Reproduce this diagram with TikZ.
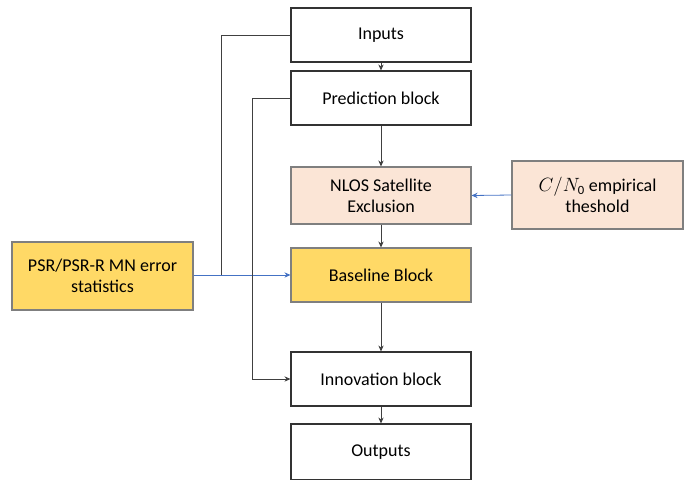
\documentclass[tikz,border=0pt]{standalone}
\usepackage{fontspec}
\setmainfont{Carlito}
\usetikzlibrary{arrows.meta}
\definecolor{peach}{HTML}{FBE5D6}
\definecolor{gold}{HTML}{FFD966}
\definecolor{bordergray}{HTML}{7F7F7F}
\definecolor{linegray}{HTML}{404040}
\definecolor{lineblue}{HTML}{4472C4}
\tikzset{
  blk/.style={draw=bordergray, line width=0.8pt, minimum width=180*0.75pt, minimum height=54*0.75pt, align=center, font=\fontsize{13.5}{15.5}\selectfont, inner sep=0pt},
  whiteblk/.style={blk, draw=black!80, fill=white},
  peachblk/.style={blk, fill=peach},
  goldblk/.style={blk, fill=gold},
  conn/.style={draw=linegray, line width=0.6pt, -{Stealth[length=4.5pt,width=4pt]}},
  bconn/.style={draw=lineblue, line width=0.6pt, -{Stealth[length=4.5pt,width=4pt]}},
  pline/.style={draw=linegray, line width=0.6pt},
}
\begin{document}
\begin{tikzpicture}[x=0.75pt,y=-0.75pt]
\useasboundingbox (0,0) rectangle (685,479);
\node[whiteblk] (inp) at (381,35) {Inputs};
\node[whiteblk] (pred) at (381,98) {Prediction block};
\node[peachblk, minimum height=57*0.75pt] (nlos) at (381,195.5) {NLOS Satellite\\Exclusion};
\node[goldblk] (base) at (381,275) {Baseline Block};
\node[whiteblk] (inno) at (381,379) {Innovation block};
\node[whiteblk, minimum height=56*0.75pt] (out) at (381,452) {Outputs};
\node[goldblk, minimum width=181*0.75pt, minimum height=68*0.75pt] (psr) at (102.5,276) {PSR/PSR-R MN error\\statistics};
\node[peachblk, minimum width=171*0.75pt, minimum height=68*0.75pt] (cn) at (597.5,195) {$C/N_{\mathrm{0}}$ empirical\\theshold};
\coordinate (c1) at (221,35);
\coordinate (c2) at (252,98);
\draw[conn] (inp) -- (pred);
\draw[conn] (pred) -- (nlos);
\draw[conn] (nlos) -- (base);
\draw[conn] (base) -- (inno);
\draw[conn] (inno) -- (out);
\draw[bconn] (cn.west) -- (nlos.east);
\draw[pline] (inp.west) -- (c1) -- (c1 |- base.west);
\draw[bconn] (psr.east |- base.west) -- (base.west);
\draw[conn] (pred.west) -- (c2) |- (inno.west);
\end{tikzpicture}
\end{document}
